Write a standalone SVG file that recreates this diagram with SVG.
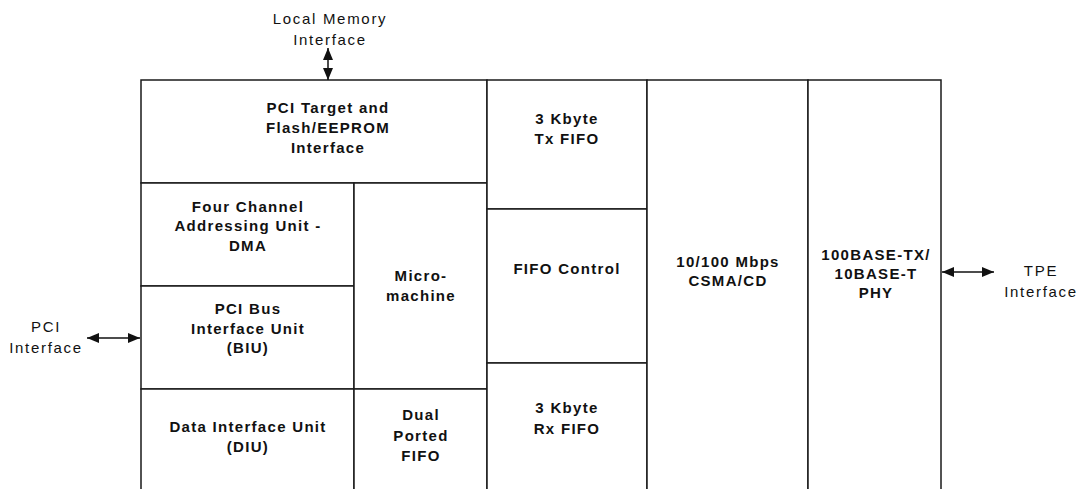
<svg xmlns="http://www.w3.org/2000/svg" width="1082" height="489" viewBox="0 0 1082 489">
<style>
.box{fill:#fff;stroke:#1a1a1a;stroke-width:1.5}
.b{font-family:"Liberation Sans",Arial,sans-serif;font-weight:bold;font-size:15px;letter-spacing:1.3px;text-anchor:middle;fill:#111}
.n{font-family:"Liberation Sans",Arial,sans-serif;font-size:15px;letter-spacing:1.7px;text-anchor:middle;fill:#111}
.c{stroke:#111;stroke-width:1.5;fill:none}
</style>
<defs>
<marker id="ah" viewBox="0 0 12 10" refX="12" refY="5" markerWidth="12" markerHeight="10" markerUnits="userSpaceOnUse" orient="auto-start-reverse">
<path d="M0,0 L12,5 L0,10 z" fill="#111"/>
</marker>
</defs>
<rect width="1082" height="489" fill="#fff"/>
<g id="pci_target"><rect class="box" x="141" y="80" width="346" height="103"/>
<text class="b" x="328" y="113">PCI Target and</text><text class="b" x="328" y="133">Flash/EEPROM</text><text class="b" x="328" y="153">Interface</text></g>
<g id="dma"><rect class="box" x="141" y="183" width="213" height="103"/>
<text class="b" x="248" y="212">Four Channel</text><text class="b" x="248" y="231">Addressing Unit -</text><text class="b" x="248" y="251">DMA</text></g>
<g id="biu"><rect class="box" x="141" y="286" width="213" height="103"/>
<text class="b" x="248" y="314">PCI Bus</text><text class="b" x="248" y="334">Interface Unit</text><text class="b" x="248" y="353">(BIU)</text></g>
<g id="diu"><rect class="box" x="141" y="389" width="213" height="110"/>
<text class="b" x="248" y="432">Data Interface Unit</text><text class="b" x="248" y="452">(DIU)</text></g>
<g id="micromachine"><rect class="box" x="354" y="183" width="133" height="206"/>
<text class="b" x="421" y="281">Micro-</text><text class="b" x="421" y="301">machine</text></g>
<g id="dual_fifo"><rect class="box" x="354" y="389" width="133" height="110"/>
<text class="b" x="421" y="420">Dual</text><text class="b" x="421" y="441">Ported</text><text class="b" x="421" y="461">FIFO</text></g>
<g id="tx_fifo"><rect class="box" x="487" y="80" width="160" height="129"/>
<text class="b" x="567" y="124">3 Kbyte</text><text class="b" x="567" y="144">Tx FIFO</text></g>
<g id="fifo_control"><rect class="box" x="487" y="209" width="160" height="154"/>
<text class="b" x="567" y="274">FIFO Control</text></g>
<g id="rx_fifo"><rect class="box" x="487" y="363" width="160" height="136"/>
<text class="b" x="567" y="413">3 Kbyte</text><text class="b" x="567" y="434">Rx FIFO</text></g>
<g id="csma"><rect class="box" x="647" y="80" width="161" height="419"/>
<text class="b" x="728" y="267">10/100 Mbps</text><text class="b" x="728" y="286">CSMA/CD</text></g>
<g id="phy"><rect class="box" x="808" y="80" width="133" height="419"/>
<text class="b" x="876" y="260">100BASE-TX/</text><text class="b" x="876" y="279">10BASE-T</text><text class="b" x="876" y="298">PHY</text></g>
<g id="local_memory"><text class="n" x="330" y="24">Local Memory</text><text class="n" x="330" y="45">Interface</text></g>
<g id="pci_interface"><text class="n" x="46" y="332">PCI</text><text class="n" x="46" y="353">Interface</text></g>
<g id="tpe_interface"><text class="n" x="1041" y="276">TPE</text><text class="n" x="1041" y="297">Interface</text></g>
<g id="connectors">
<line class="c" x1="328" y1="48" x2="328" y2="80" marker-start="url(#ah)" marker-end="url(#ah)"/>
<line class="c" x1="87" y1="338" x2="140" y2="338" marker-start="url(#ah)" marker-end="url(#ah)"/>
<line class="c" x1="942" y1="272" x2="994" y2="272" marker-start="url(#ah)" marker-end="url(#ah)"/>
</g>
</svg>
